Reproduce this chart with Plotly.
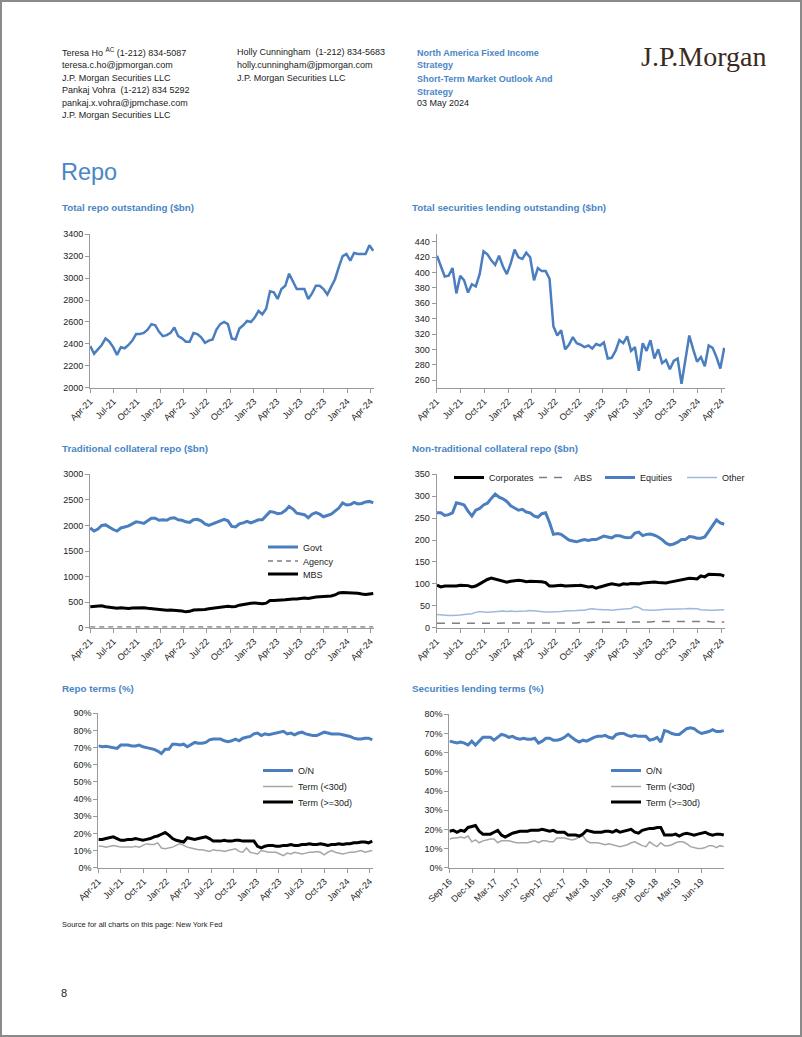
import plotly.graph_objects as go
import pandas as pd

W, H = 802, 1037

# ---------------- data ----------------
repo_dates = pd.date_range("2021-04-02", "2024-04-12", periods=75)
sl_dates = pd.date_range("2016-09-02", "2019-08-30", periods=75)

total_repo = [2380, 2310, 2350, 2390, 2450, 2420, 2370, 2300, 2370, 2360,
              2390, 2430, 2490, 2490, 2500, 2530, 2580, 2570, 2510, 2470,
              2480, 2500, 2550, 2470, 2450, 2420, 2420, 2500, 2490, 2460,
              2410, 2430, 2440, 2530, 2580, 2600, 2580, 2450, 2440, 2540,
              2570, 2610, 2600, 2640, 2700, 2670, 2720, 2880, 2870, 2810,
              2900, 2930, 3040, 2970, 2900, 2900, 2900, 2810, 2860, 2930,
              2930, 2900, 2850, 2920, 2990, 3100, 3200, 3220, 3160, 3230,
              3220, 3220, 3220, 3300, 3250]

sec_lending = [422, 407, 395, 396, 406, 373, 396, 390, 374, 385,
               382, 398, 428, 424, 416, 410, 422, 408, 398, 412,
               430, 420, 418, 426, 420, 390, 406, 402, 402, 392,
               330, 318, 325, 300, 306, 316, 308, 306, 303, 305,
               301, 307, 305, 309, 288, 289, 298, 312, 308, 317,
               298, 303, 272, 308, 298, 312, 288, 300, 282, 286,
               274, 285, 288, 255, 288, 318, 300, 284, 290, 278,
               305, 302, 290, 275, 302]

govt = [1950, 1890, 1930, 2000, 2010, 1960, 1920, 1890, 1950, 1970,
        1990, 2030, 2070, 2060, 2040, 2090, 2140, 2140, 2100, 2110,
        2100, 2140, 2150, 2110, 2100, 2070, 2060, 2110, 2120, 2090,
        2030, 2000, 2030, 2070, 2090, 2120, 2090, 1980, 1970, 2030,
        2050, 2080, 2050, 2080, 2110, 2110, 2180, 2270, 2260, 2230,
        2240, 2290, 2370, 2320, 2240, 2220, 2210, 2150, 2220, 2250,
        2220, 2170, 2200, 2220, 2280, 2340, 2440, 2400, 2410, 2450,
        2420, 2430, 2460, 2470, 2440]

agency = [12, 12, 12, 11, 12, 12, 12, 11, 11, 12,
          12, 12, 11, 12, 12, 12, 12, 11, 11, 12,
          12, 12, 12, 12, 11, 11, 12, 12, 12, 12,
          12, 12, 12, 12, 13, 12, 12, 12, 12, 12,
          12, 12, 13, 12, 12, 12, 12, 12, 13, 12,
          12, 12, 12, 12, 12, 13, 12, 12, 12, 12,
          12, 12, 12, 13, 12, 12, 12, 12, 12, 12,
          12, 13, 12, 12, 12]

mbs = [410, 415, 425, 430, 410, 395, 385, 380, 390, 380,
       375, 385, 390, 385, 390, 380, 370, 360, 355, 350,
       340, 345, 340, 330, 325, 310, 320, 345, 345, 350,
       355, 370, 380, 395, 405, 415, 420, 410, 415, 440,
       455, 470, 480, 485, 480, 470, 480, 530, 530, 530,
       540, 545, 555, 560, 560, 570, 580, 570, 590, 600,
       605, 610, 615, 620, 640, 680, 690, 685, 690, 680,
       675, 660, 650, 660, 670]

corporates = [97, 93, 95, 95, 96, 95, 97, 96, 96, 93,
              95, 100, 106, 110, 113, 111, 109, 106, 104, 106,
              107, 108, 107, 105, 106, 106, 105, 105, 103, 95,
              95, 96, 97, 95, 95, 96, 96, 97, 95, 93,
              94, 90, 93, 96, 98, 100, 98, 97, 100, 99,
              101, 101, 100, 102, 103, 104, 104, 103, 102, 102,
              104, 106, 107, 110, 112, 113, 112, 111, 118, 116,
              122, 122, 121, 121, 118]

abs_ = [10, 10, 10, 10, 10, 10, 10, 10, 10, 10,
        10, 10, 10, 10, 10, 10, 10, 10, 10, 10,
        10, 10, 10, 10, 10, 10, 10, 10, 11, 11,
        11, 11, 11, 11, 11, 11, 11, 12, 12, 12,
        12, 12, 12, 12, 12, 12, 13, 13, 13, 13,
        13, 13, 13, 13, 13, 13, 14, 14, 14, 14,
        14, 14, 15, 15, 15, 15, 15, 14, 14, 14,
        14, 13, 13, 13, 13]

equities = [262, 262, 256, 258, 262, 285, 283, 280, 266, 255,
            268, 272, 280, 284, 295, 305, 298, 294, 288, 278,
            273, 268, 270, 264, 262, 255, 252, 260, 262, 240,
            213, 215, 213, 207, 200, 198, 196, 199, 201, 199,
            201, 201, 205, 209, 207, 205, 210, 210, 207, 205,
            206, 216, 218, 210, 213, 214, 211, 207, 201, 193,
            189, 191, 195, 201, 201, 208, 207, 204, 204, 207,
            220, 232, 246, 239, 236]

other = [30, 29, 28, 28, 28, 28, 29, 30, 31, 32,
         35, 37, 36, 35, 36, 37, 37, 38, 37, 38,
         37, 37, 38, 38, 39, 38, 37, 37, 36, 36,
         36, 36, 37, 38, 38, 39, 39, 40, 40, 42,
         43, 42, 41, 41, 41, 40, 41, 42, 42, 43,
         44, 48, 46, 41, 40, 40, 40, 41, 41, 42,
         42, 42, 42, 42, 43, 44, 44, 43, 41, 40,
         40, 40, 40, 40, 41]

repo_on = [71, 70.5, 70.8, 70.5, 70, 69.5, 71.5, 71.5, 71.5, 71,
           71, 71.5, 70.5, 70, 69.5, 69, 68, 66.5, 69, 69,
           72, 72, 71.5, 72, 70.5, 72, 73, 72.5, 72.5, 73,
           74.5, 75, 75, 75, 74, 73.5, 74, 75, 74, 75.5,
           76, 76.5, 78, 78.5, 77, 78, 77.5, 78, 78.5, 79,
           79.5, 78, 78.5, 77.5, 78.5, 79, 78, 77.5, 77, 77,
           78, 79, 78.5, 78, 78, 78, 77.5, 77, 76.5, 75.5,
           75, 75, 75.5, 75.5, 74.5]

repo_term_lt30 = [12.5, 12.5, 12, 12.5, 13, 12.5, 12, 12, 12, 12,
                  12.5, 12, 13, 14, 13.5, 13.5, 14.5, 11.5, 11, 11.5,
                  12, 13, 14, 13, 12, 11.5, 11, 10.5, 10.5, 10,
                  9.5, 10.5, 10, 10, 9.5, 10, 10.5, 11, 9.5, 9,
                  11.5, 9, 8.5, 8, 10, 9.5, 9, 9, 9, 8,
                  7, 8.5, 8, 9, 8.5, 8, 8.5, 9, 9, 9.5,
                  9, 7.5, 9, 10, 9, 8.5, 8, 8.5, 9, 9,
                  9.5, 10, 9, 9.5, 10]

repo_term_ge30 = [16.5, 16.5, 17, 17.5, 18, 17, 16, 16, 16.5, 16.5,
                  17, 16.5, 16, 16.5, 17, 18, 18.5, 19.5, 20.5, 19,
                  17, 16, 15.5, 15, 17.5, 17, 16.5, 17, 17.5, 18,
                  17, 15.5, 15.5, 15.5, 16, 15.5, 15.5, 16, 16, 15.5,
                  15.5, 15.5, 15.5, 12.5, 11.5, 12.5, 13, 13, 12.5, 12.5,
                  13, 13, 13.5, 13, 13, 13.5, 13.5, 14, 13.5, 13.5,
                  14, 13.5, 13, 13.5, 13.5, 14, 13.5, 14, 14, 14.5,
                  14.5, 15, 15, 14.5, 15.5]

sl_on = [66, 65.5, 65, 65.5, 65, 64, 66, 64, 66, 68,
         68, 68, 66.5, 68, 69.5, 69, 68, 68.5, 67.5, 67,
         67.5, 67, 67, 67.5, 65, 66, 67.5, 67.5, 66.5, 66.5,
         67, 68, 69.5, 68, 66.5, 65.5, 66.5, 66, 67, 68,
         68.5, 68.5, 69, 68, 67.5, 69.5, 70, 70, 69, 68.5,
         69, 68.5, 68.5, 68.5, 66.5, 67, 68, 65.5, 71.5, 71,
         70, 69.5, 69.5, 71, 72.5, 73, 72.5, 71, 70, 70.5,
         71, 72, 71, 71, 71.5]

sl_term_lt30 = [15, 15.5, 15.5, 16, 15.5, 16.5, 13.5, 14.5, 13, 14,
                14.5, 15, 15, 13, 14, 14, 14, 13.5, 13, 13,
                13, 13, 13.5, 14, 13, 14, 14, 13.5, 13.5, 15.5,
                15.5, 15.5, 15, 14.5, 15, 16, 16.5, 14, 13, 13,
                13, 12.5, 12, 12.5, 12, 11.5, 11, 11.5, 12, 13,
                13.5, 12.5, 11.5, 11, 13.5, 12, 11, 13, 11.5, 11.5,
                12, 13, 13.5, 13.5, 12.5, 11, 10.5, 10, 10, 10.5,
                11.5, 11.5, 10.5, 11.5, 11]

sl_term_ge30 = [19, 19.5, 18.5, 19.5, 19, 21, 21.5, 22, 19, 17.5,
                17.5, 17.5, 18.5, 19.5, 17, 16, 17, 18, 18.5, 19,
                19, 19, 19.5, 19.5, 19.5, 20, 19.5, 19, 19.5, 18.5,
                18.5, 18.5, 17, 17, 17, 16.5, 17.5, 19.5, 19, 18.5,
                18.5, 18.5, 19, 19, 18.5, 19.5, 18.5, 19, 19.5, 20,
                18.5, 18, 19.5, 20, 20.5, 20.5, 21, 21, 17, 17,
                17, 17.5, 16.5, 17.5, 18, 17.5, 17, 17.5, 18, 18.5,
                17.5, 17, 17.5, 17.5, 17]

# ---------------- styling ----------------
BLUE = "#4A7EBF"
LIGHTBLUE = "#9DB9DE"
GRAY = "#A6A6A6"
DGRAY = "#7F7F7F"
TITLE_BLUE = "#4A86C5"
FONT = "Liberation Sans, Arial, sans-serif"


def px(x):
    return x / W


def py(y):
    return 1 - y / H


fig = go.Figure()

# subplot geometry in page pixels: (left, right, top, bottom)
boxes = {
    1: (90, 374, 234.3, 387.7),
    2: (436.7, 725, 234.3, 387.7),
    3: (90, 374, 474.3, 627.7),
    4: (436.7, 725, 474.3, 627.7),
    5: (98.3, 373, 713.3, 867.7),
    6: (449.3, 724, 714.3, 867.7),
}

repo_range = ["2021-04-01", "2024-04-15"]
sl_range = ["2016-09-01", "2019-08-31"]

yspecs = {
    1: dict(range=[2000, 3400], dtick=200),
    2: dict(range=[250, 450], dtick=20),
    3: dict(range=[0, 3000], dtick=500),
    4: dict(range=[0, 350], dtick=50),
    5: dict(range=[0, 90], dtick=10, ticksuffix="%"),
    6: dict(range=[0, 80], dtick=10, ticksuffix="%"),
}

axis_common = dict(showline=True, linecolor="#9A9A9A", linewidth=1,
                   ticks="outside", ticklen=4, tickcolor="#9A9A9A",
                   showgrid=False, zeroline=False, automargin=False,
                   tickfont=dict(family=FONT, size=9, color="#222"))

layout = {}
for k, (l, r, t, b) in boxes.items():
    xa = "xaxis" if k == 1 else f"xaxis{k}"
    ya = "yaxis" if k == 1 else f"yaxis{k}"
    yname = "y" if k == 1 else f"y{k}"
    xname = "x" if k == 1 else f"x{k}"
    layout[xa] = dict(axis_common, domain=[px(l), px(r)], anchor=yname,
                      type="date", range=sl_range if k == 6 else repo_range,
                      dtick="M3", tick0="2016-09-01" if k == 6 else "2021-04-01",
                      tickformat="%b-%y", tickangle=-45)
    layout[ya] = dict(axis_common, domain=[py(b), py(t)], anchor=xname, **yspecs[k])


def add(k, x, y, name, color, width, dash="solid", legend=None):
    xname = "x" if k == 1 else f"x{k}"
    yname = "y" if k == 1 else f"y{k}"
    fig.add_trace(go.Scatter(x=x, y=y, name=name, mode="lines",
                             line=dict(color=color, width=width, dash=dash),
                             xaxis=xname, yaxis=yname,
                             showlegend=legend is not None,
                             legend=legend if legend else "legend",
                             hoverinfo="skip"))


add(1, repo_dates, total_repo, "Total repo", BLUE, 2.5)
add(2, repo_dates, sec_lending, "Securities lending", BLUE, 2.5)

add(3, repo_dates, agency, "Agency", DGRAY, 1.5, "5px,4px", "legend2")
add(3, repo_dates, mbs, "MBS", "#000000", 3, legend="legend3")
add(3, repo_dates, govt, "Govt", BLUE, 3, legend="legend")

add(4, repo_dates, abs_, "ABS", DGRAY, 1.5, "8px,7px", "legend5")
add(4, repo_dates, other, "Other", LIGHTBLUE, 1.5, legend="legend7")
add(4, repo_dates, corporates, "Corporates", "#000000", 3, legend="legend4")
add(4, repo_dates, equities, "Equities", BLUE, 3, legend="legend6")

add(5, repo_dates, repo_term_lt30, "Term (<30d)", GRAY, 1.5, legend="legend9")
add(5, repo_dates, repo_term_ge30, "Term (>=30d)", "#000000", 3, legend="legend10")
add(5, repo_dates, repo_on, "O/N", BLUE, 3, legend="legend8")

add(6, sl_dates, sl_term_lt30, "Term (<30d)", GRAY, 1.5, legend="legend12")
add(6, sl_dates, sl_term_ge30, "Term (>=30d)", "#000000", 3, legend="legend13")
add(6, sl_dates, sl_on, "O/N", BLUE, 3, legend="legend11")

# legend placement (x = line sample start, y = centre) in page pixels
leg_pos = {
    "legend": (269, 547), "legend2": (269, 561), "legend3": (269, 574),
    "legend4": (455, 477.5), "legend5": (540, 477.5), "legend6": (606, 477.5),
    "legend7": (688, 477.5),
    "legend8": (264, 770.5), "legend9": (264, 786.5), "legend10": (264, 802),
    "legend11": (612, 770.5), "legend12": (612, 786.5), "legend13": (612, 802),
}
for name, (lx, ly) in leg_pos.items():
    layout[name] = dict(x=px(lx - 6), y=py(ly), xanchor="left", yanchor="middle",
                        bgcolor="rgba(0,0,0,0)", borderwidth=0, itemwidth=30,
                        font=dict(family=FONT, size=9, color="#222"),
                        tracegroupgap=0, itemclick=False, itemdoubleclick=False)

ann = []


def text(x, y, s, size=9, color="#222", family=FONT, bold=False):
    ann.append(dict(x=px(x), y=py(y), xref="paper", yref="paper", xanchor="left",
                    yanchor="middle", showarrow=False,
                    text=f"<b>{s}</b>" if bold else s,
                    font=dict(family=family, size=size, color=color)))


# header
text(60, 52, "Teresa Ho <sup>AC</sup> (1-212) 834-5087")
text(60, 65, "teresa.c.ho@jpmorgan.com")
text(60, 77.5, "J.P. Morgan Securities LLC")
text(60, 90.5, "Pankaj Vohra  (1-212) 834 5292")
text(60, 103, "pankaj.x.vohra@jpmchase.com")
text(60, 115, "J.P. Morgan Securities LLC")
text(235, 52, "Holly Cunningham  (1-212) 834-5683")
text(235, 65, "holly.cunningham@jpmorgan.com")
text(235, 77.5, "J.P. Morgan Securities LLC")
text(415, 53, "North America Fixed Income", color=TITLE_BLUE, bold=True)
text(415, 65.5, "Strategy", color=TITLE_BLUE, bold=True)
text(415, 79, "Short-Term Market Outlook And", color=TITLE_BLUE, bold=True)
text(415, 91.5, "Strategy", color=TITLE_BLUE, bold=True)
text(415, 103, "03 May 2024")
text(639, 56, "J.P.Morgan", size=28, color="#3B2A1E",
     family="Liberation Serif, DejaVu Serif, serif")

text(59, 172, "Repo", size=23.5, color=TITLE_BLUE)

# chart titles
text(60, 208, "Total repo outstanding ($bn)", size=9.8, color=TITLE_BLUE, bold=True)
text(410, 208, "Total securities lending outstanding ($bn)", size=9.8, color=TITLE_BLUE, bold=True)
text(60, 448, "Traditional collateral repo ($bn)", size=9.8, color=TITLE_BLUE, bold=True)
text(410, 448, "Non-traditional collateral repo ($bn)", size=9.8, color=TITLE_BLUE, bold=True)
text(60, 688, "Repo terms (%)", size=9.8, color=TITLE_BLUE, bold=True)
text(410, 688, "Securities lending terms (%)", size=9.8, color=TITLE_BLUE, bold=True)

# footer
text(60, 924, "Source for all charts on this page: New York Fed", size=7.5)
text(59, 993, "8", size=11)

layout["annotations"] = ann
layout["shapes"] = [dict(type="rect", xref="paper", yref="paper",
                         x0=px(1), x1=px(801), y0=py(1036), y1=py(1),
                         line=dict(color="#8A8A8A", width=2))]

fig.update_layout(**layout)
fig.update_layout(width=W, height=H, margin=dict(l=0, r=0, t=0, b=0),
                  paper_bgcolor="white", plot_bgcolor="white",
                  showlegend=True, hovermode=False)

fig.write_html("out.html", config={"displayModeBar": False},
               post_script="document.body.style.margin='0px';document.body.style.overflow='hidden';")
